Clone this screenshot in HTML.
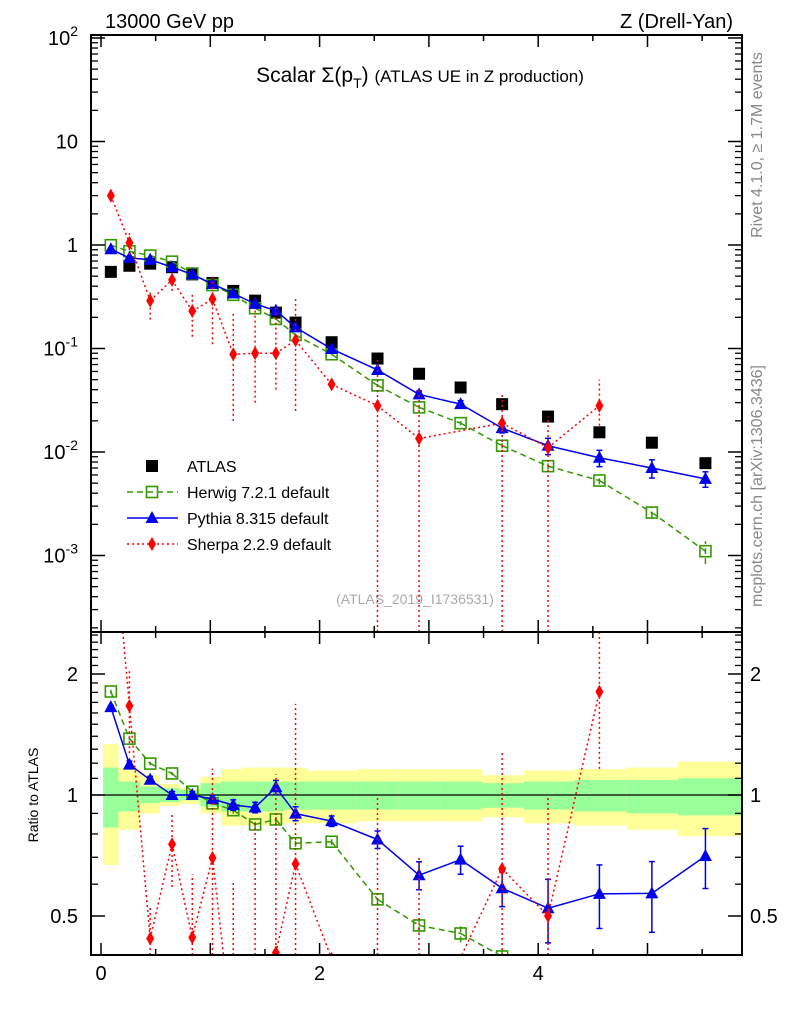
<!DOCTYPE html>
<html><head><meta charset="utf-8"><style>
html,body{margin:0;padding:0;background:#fff;width:786px;height:1024px;overflow:hidden;}
svg{display:block;font-family:"Liberation Sans",sans-serif;}
</style></head><body>
<svg id="c" width="786" height="1024" viewBox="0 0 786 1024" xmlns="http://www.w3.org/2000/svg">
<text x="105" y="28" font-size="20">13000 GeV pp</text>
<text x="733" y="28" font-size="20" text-anchor="end">Z (Drell-Yan)</text>
<text x="420" y="82" font-size="21" text-anchor="middle">Scalar Σ(p<tspan font-size="14" dy="6">T</tspan><tspan dy="-6">) </tspan><tspan font-size="17">(ATLAS UE in Z production)</tspan></text>
<text transform="translate(762,145) rotate(-90)" font-size="16" fill="#888" text-anchor="middle">Rivet 4.1.0, ≥ 1.7M events</text>
<text transform="translate(762,486) rotate(-90)" font-size="16" fill="#888" text-anchor="middle">mcplots.cern.ch [arXiv:1306.3436]</text>
<text x="415" y="604" font-size="14" fill="#aaa" text-anchor="middle">(ATLAS_2019_I1736531)</text>
<text transform="translate(38,795) rotate(-90)" font-size="14" text-anchor="middle">Ratio to ATLAS</text>
<g id="band"></g><g id="grid"></g><g id="marks"></g><g id="axes"></g><g id="legend"></g>
</svg>
<script>
const xs=[0.09,0.26,0.45,0.65,0.835,1.02,1.21,1.41,1.6,1.78,2.11,2.53,2.91,3.29,3.67,4.09,4.56,5.04,5.53];
const edges=[0.02,0.16,0.36,0.54,0.72,0.91,1.10,1.29,1.48,1.67,1.88,2.34,2.72,3.11,3.49,3.87,4.33,4.81,5.28,5.87];
const atlas=[0.55,0.63,0.66,0.61,0.52,0.43,0.36,0.29,0.222,0.178,0.115,0.08,0.057,0.042,0.029,0.022,0.0155,0.0123,0.0078];
const herwig=[0.995,0.87,0.79,0.69,0.53,0.41,0.33,0.245,0.193,0.135,0.088,0.044,0.027,0.019,0.0115,0.0073,0.0053,0.0026,0.0011];
const herwigErr=[0.01,0.01,0.01,0.01,0.01,0.01,0.02,0.02,0.02,0.02,0.02,0.03,0.04,0.05,0.06,0.07,0.08,0.12,0.25];
const pythia=[0.91,0.75,0.72,0.61,0.52,0.42,0.34,0.27,0.232,0.16,0.099,0.062,0.036,0.029,0.017,0.0115,0.0088,0.0070,0.0055];
const pythiaErr=[0.01,0.02,0.02,0.02,0.02,0.02,0.03,0.03,0.04,0.04,0.03,0.05,0.08,0.08,0.1,0.18,0.18,0.2,0.17];
const sherpa=[3.0,1.05,0.29,0.46,0.23,0.30,0.088,0.09,0.09,0.12,0.045,0.028,0.0135,null,0.019,0.011,0.028,null,null];
const sherpaHi=[3.5,1.3,0.35,0.55,0.33,0.5,0.22,0.25,0.25,0.3,0.045,0.08,0.04,null,0.037,0.022,0.05,null,null];
const sherpaLo=[2.6,0.8,0.19,0.36,0.13,0.11,0.02,0.03,0.04,0.025,0.045,1e-6,1e-6,null,1e-6,1e-6,0.018,null,null];
const bandYUp=[1.34,1.17,1.12,1.065,1.04,1.11,1.16,1.17,1.17,1.17,1.15,1.16,1.16,1.16,1.12,1.15,1.16,1.17,1.21];
const bandYDn=[0.67,0.82,0.90,0.94,0.95,0.90,0.84,0.84,0.84,0.85,0.85,0.86,0.86,0.86,0.88,0.85,0.84,0.82,0.79];
const bandGUp=[1.17,1.08,1.05,1.04,1.03,1.07,1.08,1.08,1.08,1.08,1.08,1.08,1.08,1.08,1.07,1.08,1.09,1.09,1.10];
const bandGDn=[0.83,0.91,0.955,0.96,0.97,0.935,0.91,0.91,0.91,0.92,0.92,0.92,0.92,0.92,0.93,0.92,0.91,0.90,0.89];
const xTicks=[0,2,4];
const yMainTicks=[-3,-2,-1,0,1,2];
const yRatioTicks=[0.5,1,2];

const L=91,R=742,T=35,MB=632,RB=955;
const X=v=>101+v*109.3;
const Y=v=>245-Math.log10(v)*103.5;
const YR=v=>795-Math.log2(v)*121;
const NS="http://www.w3.org/2000/svg";
function mk(p,tag,at){const e=document.createElementNS(NS,tag);for(const k in at)e.setAttribute(k,at[k]);p.appendChild(e);return e;}
const svg=document.getElementById('c');
const band=document.getElementById('band'),marks=document.getElementById('marks'),axes=document.getElementById('axes'),leg=document.getElementById('legend');
const defs=mk(svg,'defs',{});
const clipR=mk(defs,'clipPath',{id:'cr'});mk(clipR,'rect',{x:L,y:MB,width:R-L,height:RB-MB});
const clipM=mk(defs,'clipPath',{id:'cm'});mk(clipM,'rect',{x:L,y:T,width:R-L,height:MB-T});
for(let i=0;i<xs.length;i++){
  const x0=X(edges[i]),x1=X(edges[i+1]);
  let r=mk(band,'rect',{x:x0,y:YR(bandYUp[i]),width:x1-x0,height:YR(bandYDn[i])-YR(bandYUp[i]),fill:'#ffff99'});
  
  
  r=mk(band,'rect',{x:x0,y:YR(bandGUp[i]),width:x1-x0,height:YR(bandGDn[i])-YR(bandGUp[i]),fill:'#99ff99'});
  
  
}
mk(band,'line',{x1:L,x2:R,y1:YR(1),y2:YR(1),stroke:'#000','stroke-width':1.3});
let f=mk(axes,'rect',{x:L,y:T,width:R-L,height:MB-T,fill:'none',stroke:'#000','stroke-width':2});


f=mk(axes,'rect',{x:L,y:MB,width:R-L,height:RB-MB,fill:'none',stroke:'#000','stroke-width':2});


for(let v=0;v<=5.8;v+=0.5){const big=Math.abs(v-Math.round(v))<0.01;const len=big?12:6;const px=X(v);
  for(const [yt,yb] of [[T,MB],[MB,RB]]){mk(axes,'line',{x1:px,x2:px,y1:yb,y2:yb-len,stroke:'#000','stroke-width':1.5});mk(axes,'line',{x1:px,x2:px,y1:yt,y2:yt+len,stroke:'#000','stroke-width':1.5});}}
xTicks.forEach(v=>{const t=mk(axes,'text',{x:X(v),y:980,'font-size':20,'text-anchor':'middle'});t.textContent=v;

});
yMainTicks.forEach(e=>{const py=Y(Math.pow(10,e));if(py>=T-4&&py<=MB){
  mk(axes,'line',{x1:L,x2:L+14,y1:py,y2:py,stroke:'#000','stroke-width':1.5});mk(axes,'line',{x1:R,x2:R-14,y1:py,y2:py,stroke:'#000','stroke-width':1.5});
  const t=mk(axes,'text',{x:78,y:py+7,'font-size':20,'text-anchor':'end'});
  
  
  if(e===0)t.textContent='1';else if(e===1)t.textContent='10';else{t.textContent='10';const s=mk(t,'tspan',{dy:-9,'font-size':14});s.textContent=e;}}
  for(let m=2;m<=9;m++){const q=Y(m*Math.pow(10,e));if(q>T&&q<MB){mk(axes,'line',{x1:L,x2:L+7,y1:q,y2:q,stroke:'#000','stroke-width':1.3});mk(axes,'line',{x1:R,x2:R-7,y1:q,y2:q,stroke:'#000','stroke-width':1.3});}}});
for(let m=2;m<=9;m++){const q=Y(m*1e-4);if(q<MB){mk(axes,'line',{x1:L,x2:L+7,y1:q,y2:q,stroke:'#000','stroke-width':1.3});mk(axes,'line',{x1:R,x2:R-7,y1:q,y2:q,stroke:'#000','stroke-width':1.3});}}
yRatioTicks.forEach(v=>{const py=YR(v);mk(axes,'line',{x1:L,x2:L+14,y1:py,y2:py,stroke:'#000','stroke-width':1.5});mk(axes,'line',{x1:R,x2:R-14,y1:py,y2:py,stroke:'#000','stroke-width':1.5});
 for(const [xx,an] of [[78,'end'],[750,'start']]){const t=mk(axes,'text',{x:xx,y:py+7,'font-size':20,'text-anchor':an});t.textContent=v;
 
 }});
for(let k=4;k<=25;k++){const v=k/10;if(k===5||k===10||k===20)continue;const py=YR(v);if(py<MB||py>RB)continue;
 mk(axes,'line',{x1:L,x2:L+7,y1:py,y2:py,stroke:'#000','stroke-width':1.3});mk(axes,'line',{x1:R,x2:R-7,y1:py,y2:py,stroke:'#000','stroke-width':1.3});}
function marker(g,type,x,y,col){
  if(type==='sq'){return mk(g,'rect',{x:x-6,y:y-6,width:12,height:12,fill:'#000'});}
  if(type==='osq'){return mk(g,'rect',{x:x-5.5,y:y-5.5,width:11,height:11,fill:'none',stroke:col,'stroke-width':1.6});}
  if(type==='tri'){return mk(g,'polygon',{points:`${x},${y-7} ${x-6.5},${y+5} ${x+6.5},${y+5}`,fill:col});}
  if(type==='dia'){return mk(g,'polygon',{points:`${x},${y-7} ${x-4},${y} ${x},${y+7} ${x+4},${y}`,fill:col});}
}
function clipSeg(x1,y1,x2,y2,top,bot){
  // clip segment to y in [top,bot]
  let t0=0,t1=1;const dy=y2-y1;
  if(dy===0){if(y1<top||y1>bot)return null;return [x1,y1,x2,y2];}
  let ta=(top-y1)/dy,tb=(bot-y1)/dy;if(ta>tb){const s=ta;ta=tb;tb=s;}
  t0=Math.max(t0,ta);t1=Math.min(t1,tb);if(t0>t1)return null;
  return [x1+(x2-x1)*t0,y1+dy*t0,x1+(x2-x1)*t1,y1+dy*t1];
}
function series(name,vals,lo,hi,col,dash,type,yf,clip,top,bot){
  const cl=v=>Math.max(top,Math.min(bot,v));
  const g=mk(marks,'g',{'clip-path':`url(#${clip})`});
  
  
  let prev=null;
  vals.forEach((v,i)=>{if(v==null)return;const px=X(xs[i]);const py=yf(v);
    if(lo){const a=cl(yf(Math.max(lo[i],1e-9))),b=cl(yf(hi[i]));if(a!==b){mk(g,'line',{x1:px,x2:px,y1:a,y2:b,stroke:col,'stroke-width':1.5,'stroke-dasharray':dash||'none'});
      if(!dash){mk(g,'line',{x1:px-3,x2:px+3,y1:a,y2:a,stroke:col,'stroke-width':1.5});mk(g,'line',{x1:px-3,x2:px+3,y1:b,y2:b,stroke:col,'stroke-width':1.5});}}}
    if(type!=='sq'&&prev){const s=clipSeg(prev[0],prev[1],px,py,top,bot);if(s)mk(g,'line',{x1:s[0],y1:s[1],x2:s[2],y2:s[3],stroke:col,'stroke-width':1.5,'stroke-dasharray':dash||'none'});}
    prev=[px,py];});
  vals.forEach((v,i)=>{if(v==null)return;const py=yf(v);if(py<top-8||py>bot+8)return;const m=marker(g,type,X(xs[i]),py,col);
    
    });
}
const H='#339900',P='#0000ee',S='#ff0000';
series('atlas-data',atlas,null,null,'#000',null,'sq',Y,'cm',T,MB);
series('herwig-main',herwig,herwig.map((v,i)=>v*(1-herwigErr[i])),herwig.map((v,i)=>v*(1+herwigErr[i])),H,'6,4','osq',Y,'cm',T,MB);
series('pythia-main',pythia,pythia.map((v,i)=>v*(1-pythiaErr[i])),pythia.map((v,i)=>v*(1+pythiaErr[i])),P,null,'tri',Y,'cm',T,MB);
series('sherpa-main',sherpa,sherpaLo,sherpaHi,S,'2,3','dia',Y,'cm',T,MB);
const rr=a=>a.map((v,i)=>v==null?null:v/atlas[i]);
series('herwig-ratio',rr(herwig),rr(herwig).map((v,i)=>v*(1-herwigErr[i])),rr(herwig).map((v,i)=>v*(1+herwigErr[i])),H,'6,4','osq',YR,'cr',MB,RB);
series('pythia-ratio',rr(pythia),rr(pythia).map((v,i)=>v*(1-pythiaErr[i])),rr(pythia).map((v,i)=>v*(1+pythiaErr[i])),P,null,'tri',YR,'cr',MB,RB);
series('sherpa-ratio',rr(sherpa),rr(sherpaLo),rr(sherpaHi),S,'2,3','dia',YR,'cr',MB,RB);
const items=[['ATLAS','sq','#000',null],['Herwig 7.2.1 default','osq',H,'6,4'],['Pythia 8.315 default','tri',P,null],['Sherpa 2.2.9 default','dia',S,'2,3']];
items.forEach((it,i)=>{const y=466+i*26;const g=mk(leg,'g',{});
 
 
 if(i>0)mk(g,'line',{x1:127,x2:178,y1:y,y2:y,stroke:it[2],'stroke-width':1.5,'stroke-dasharray':it[3]||'none'});
 marker(g,it[1],152,y,it[2]);
 const t=mk(g,'text',{x:187,y:y+6,'font-size':16});t.textContent=it[0];});
</script>
</body></html>
